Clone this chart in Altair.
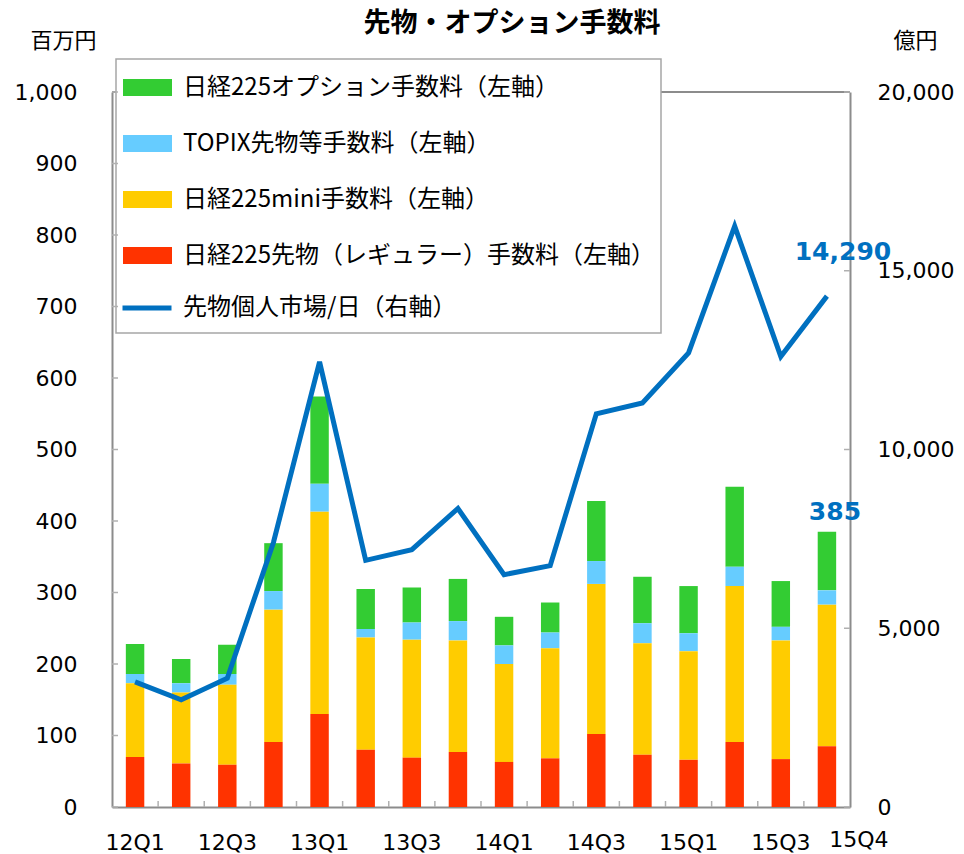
import altair as alt
import pandas as pd

quarters = ["12Q1", "12Q2", "12Q3", "12Q4", "13Q1", "13Q2", "13Q3", "13Q4",
            "14Q1", "14Q2", "14Q3", "14Q4", "15Q1", "15Q2", "15Q3", "15Q4"]
regular = [70, 61, 59, 91, 130, 80, 69, 77, 63, 68, 102, 73, 66, 91, 67, 85]
mini = [103, 99, 112, 185, 283, 157, 165, 156, 137, 154, 210, 156, 152, 218, 166, 198]
topix = [13, 13, 15, 26, 39, 12, 24, 27, 26, 22, 32, 28, 25, 27, 19, 20]
option = [42, 34, 41, 67, 122, 56, 49, 59, 40, 42, 84, 65, 66, 112, 64, 82]
retail = [3500, 3000, 3600, 7400, 12450, 6900, 7200, 8350,
          6500, 6750, 11000, 11300, 12700, 16250, 12600, 14290]

x_labels = ["12Q1", "12Q3", "13Q1", "13Q3", "14Q1", "14Q3", "15Q1", "15Q3"]
left_ticks = [0, 100, 200, 300, 400, 500, 600, 700, 800, 900, 1000]
right_ticks = [0, 5000, 10000, 15000, 20000]

S_OPT = "日経225オプション手数料（左軸）"
S_TOPIX = "TOPIX先物等手数料（左軸）"
S_MINI = "日経225mini手数料（左軸）"
S_REG = "日経225先物（レギュラー）手数料（左軸）"
S_LINE = "先物個人市場/日（右軸）"

series_names = [S_OPT, S_TOPIX, S_MINI, S_REG]
series_colors = ["#33CC33", "#66CCFF", "#FFCC00", "#FF3300"]
series_values = [option, topix, mini, regular]
stack_order = [3, 2, 1, 0]

rows = []
for name, vals, o in zip(series_names, series_values, stack_order):
    for q, v in zip(quarters, vals):
        rows.append({"q": q, "series": name, "value": v, "ord": o})
bar_df = pd.DataFrame(rows)

totals = [a + b + c + d for a, b, c, d in zip(regular, mini, topix, option)]
line_df = pd.DataFrame({"q": quarters, "retail": retail, "total": totals,
                        "series": [S_LINE] * len(quarters)})
last_df = line_df[line_df["q"] == quarters[-1]]
tick_df = pd.DataFrame({"q": quarters[:-1]})
lt_df = pd.DataFrame({"v": left_ticks})
rt_df = pd.DataFrame({"v": right_ticks})
dummy = pd.DataFrame({"a": [0]})

GRAY = "#8c8c8c"
JP = "Noto Sans CJK JP"
NUM = "DejaVu Sans"
W, H = 738, 715
STEP = W / len(quarters)

xscale = alt.Scale(domain=quarters, paddingInner=0.6, paddingOuter=0.3)
lscale = alt.Scale(domain=[0, 1000])
rscale = alt.Scale(domain=[0, 20000])

x_axis = alt.Axis(
    values=x_labels, labelAngle=0, ticks=False, domainColor=GRAY, domainWidth=2,
    labelFont=NUM, labelFontSize=22, labelColor="black", title=None,
    labelPadding=25, grid=False,
)


def xenc(**kw):
    return alt.X("q:N", scale=xscale, sort=quarters, axis=x_axis, **kw)


top_rule = alt.Chart(dummy).mark_rule(color=GRAY, strokeWidth=2).encode(
    x=alt.value(0), x2=alt.value(W), y=alt.value(0)
)

frame = alt.Chart(dummy).mark_rect(fill="white", stroke="#a6a6a6", strokeWidth=1.5).encode(
    x=alt.value(4), x2=alt.value(549), y=alt.value(-33), y2=alt.value(241)
)

bars = alt.Chart(bar_df).mark_bar().encode(
    x=xenc(),
    y=alt.Y("value:Q", stack="zero", scale=lscale,
            axis=alt.Axis(orient="left", values=left_ticks, format=",.0f", ticks=False,
                          grid=False, domainColor=GRAY, domainWidth=2,
                          labelFont=NUM, labelFontSize=22, labelColor="black",
                          labelPadding=35,
                          title="百万円", titleAngle=0, titleX=-49, titleY=-52,
                          titleAlign="center", titleBaseline="middle",
                          titleFont=JP, titleFontSize=22, titleFontWeight="normal",
                          titleColor="black")),
    color=alt.Color("series:N",
                    scale=alt.Scale(domain=series_names, range=series_colors),
                    legend=alt.Legend(orient="none", legendX=11, legendY=-29, title=None,
                                      symbolType="M-1,-0.347H1V0.347H-1Z",
                                      symbolSize=2401, symbolStrokeWidth=0,
                                      rowPadding=19, labelOffset=11, padding=0,
                                      labelFont=JP, labelFontSize=24, labelColor="black",
                                      labelLimit=700)),
    order=alt.Order("ord:Q", sort="ascending"),
)

xticks = alt.Chart(tick_df).mark_rule(
    color="#b0b0b0", strokeWidth=1.5, xOffset=0.3 * STEP
).encode(
    x=xenc(bandPosition=1),
    y=alt.value(H), y2=alt.value(H - 6),
)

lticks = alt.Chart(lt_df).mark_rule(color="#b0b0b0", strokeWidth=1.5).encode(
    y=alt.Y("v:Q", scale=lscale, axis=None), x=alt.value(0), x2=alt.value(6)
)

rticks = alt.Chart(rt_df).mark_rule(color="#b0b0b0", strokeWidth=1.5).encode(
    y=alt.Y("v:Q", scale=rscale, axis=None), x=alt.value(W - 6), x2=alt.value(W)
)

line = alt.Chart(line_df).mark_line(strokeWidth=5).encode(
    x=xenc(),
    y=alt.Y("retail:Q", scale=rscale,
            axis=alt.Axis(orient="right", values=right_ticks, format=",.0f", ticks=False,
                          grid=False, domainColor=GRAY, domainWidth=2,
                          labelFont=NUM, labelFontSize=22, labelColor="black",
                          labelPadding=27,
                          title="億円", titleAngle=0, titleX=65, titleY=-52,
                          titleAlign="center", titleBaseline="middle",
                          titleFont=JP, titleFontSize=22, titleFontWeight="normal",
                          titleColor="black")),
    stroke=alt.Stroke("series:N", scale=alt.Scale(domain=[S_LINE], range=["#0070C0"]),
                      legend=alt.Legend(orient="none", legendX=8, legendY=189, title=None,
                                        symbolType="stroke", symbolSize=2401,
                                        symbolStrokeWidth=5, labelOffset=9, padding=0,
                                        labelFont=JP, labelFontSize=24, labelColor="black",
                                        labelLimit=700)),
)

lab_line = alt.Chart(last_df).mark_text(
    dx=16, dy=-44, font=NUM, fontWeight="bold", fontSize=25, color="#0070C0",
    baseline="middle", align="center"
).encode(
    x=xenc(),
    y=alt.Y("retail:Q", scale=rscale, axis=None),
    text=alt.Text("retail:Q", format=","),
)

lab_bar = alt.Chart(last_df).mark_text(
    dx=8, dy=-20, font=NUM, fontWeight="bold", fontSize=25, color="#0070C0",
    baseline="middle", align="center"
).encode(
    x=xenc(),
    y=alt.Y("total:Q", scale=lscale, axis=None),
    text=alt.Text("total:Q", format=","),
)

# last category label, drawn a little right of and above the others as in the source
lab_last_q = alt.Chart(last_df).mark_text(
    dx=32, font=NUM, fontSize=22, color="black", baseline="top", align="center"
).encode(
    x=xenc(),
    y=alt.value(H + 23),
    text="q:N",
)

chart = alt.layer(
    top_rule, frame, bars, xticks, lticks, rticks, line, lab_line, lab_bar, lab_last_q
).resolve_scale(
    y="independent"
).properties(
    width=W, height=H,
    padding={"left": 104, "top": 84, "right": 106, "bottom": 47},
    autosize=alt.AutoSizeParams(type="none"),
    background="white",
    title=alt.TitleParams("先物・オプション手数料", font=JP, fontSize=27, fontWeight="bold",
                          anchor="middle", dx=31, baseline="bottom", offset=-36,
                          color="black"),
).configure_view(stroke=None)

chart.save("out.html", embed_options={"renderer": "svg", "actions": False})
